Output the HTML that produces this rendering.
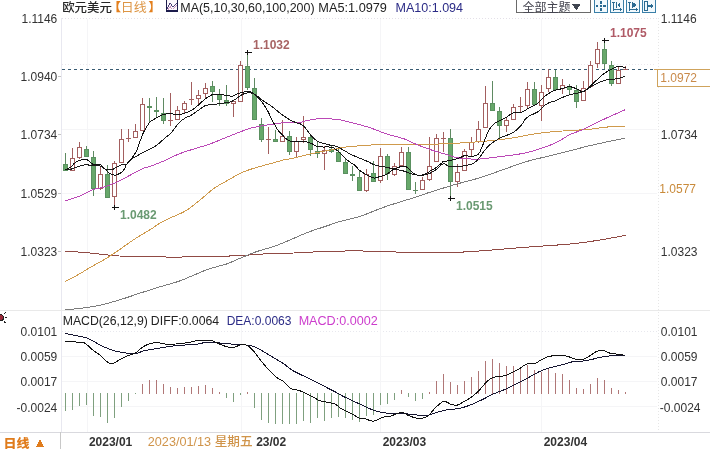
<!DOCTYPE html>
<html><head><meta charset="utf-8"><title>欧元美元 日线</title>
<style>
html,body{margin:0;padding:0;background:#fff;}
body{width:710px;height:449px;overflow:hidden;position:relative;font-family:"Liberation Sans", "Noto Sans CJK SC", sans-serif;}
svg{position:absolute;left:0;top:0;}
.t{font-family:"Liberation Sans", "Noto Sans CJK SC", sans-serif;font-size:12px;}
</style></head>
<body>
<svg width="710" height="449" viewBox="0 0 710 449" shape-rendering="crispEdges">
<rect width="710" height="449" fill="#fff"/>
<line x1="62" y1="18.5" x2="657" y2="18.5" stroke="#e4e0e8" stroke-dasharray="1,2"/>
<line x1="62" y1="331.5" x2="657" y2="331.5" stroke="#e8e8ee" stroke-dasharray="1,2"/>
<line x1="62" y1="64.5" x2="654" y2="64.5" stroke="#ece8ee" stroke-dasharray="1,2"/>
<line x1="62" y1="129.5" x2="657" y2="129.5" stroke="#f5f5f7"/>
<line x1="62" y1="193.5" x2="657" y2="193.5" stroke="#f5f5f7"/>
<line x1="62" y1="356.5" x2="657" y2="356.5" stroke="#f5f5f7"/>
<line x1="62" y1="381.5" x2="657" y2="381.5" stroke="#f5f5f7"/>
<line x1="62" y1="406.5" x2="657" y2="406.5" stroke="#f5f5f7"/>
<line x1="87.5" y1="19" x2="87.5" y2="432" stroke="#f5f5f7" />
<line x1="241.5" y1="19" x2="241.5" y2="432" stroke="#f5f5f7" />
<line x1="380.5" y1="19" x2="380.5" y2="432" stroke="#f5f5f7" />
<line x1="541.5" y1="19" x2="541.5" y2="432" stroke="#f5f5f7" />
<line x1="61.5" y1="18" x2="61.5" y2="432" stroke="#e8e8f0"/>
<line x1="658.5" y1="18" x2="658.5" y2="432" stroke="#e6e6e6" stroke-dasharray="1,2"/>
<line x1="0" y1="310.5" x2="710" y2="310.5" stroke="#e9e9e9"/>
<line x1="0" y1="432.5" x2="710" y2="432.5" stroke="#d9d9de"/>
<line x1="58" y1="76.5" x2="61" y2="76.5" stroke="#c4c4c4"/>
<line x1="58" y1="134.5" x2="61" y2="134.5" stroke="#c4c4c4"/>
<line x1="58" y1="193.5" x2="61" y2="193.5" stroke="#c4c4c4"/>
<line x1="58" y1="251.5" x2="61" y2="251.5" stroke="#c4c4c4"/>
<line x1="62" y1="69.5" x2="654" y2="69.5" stroke="#385a72" stroke-dasharray="3,3"/>
<rect x="65" y="153" width="1" height="18" fill="#5f8a62"/>
<rect x="63.5" y="164.5" width="4" height="6" fill="#67a86a" stroke="#5a9060"/>
<rect x="72" y="148" width="1" height="23" fill="#a35f5f"/>
<rect x="70.5" y="158.5" width="4" height="12" fill="#fff" stroke="#a35f5f"/>
<rect x="79" y="142" width="1" height="17" fill="#a35f5f"/>
<rect x="77.5" y="147.5" width="4" height="10" fill="#fff" stroke="#a35f5f"/>
<rect x="86" y="146" width="1" height="11" fill="#5f8a62"/>
<rect x="84.5" y="149.5" width="4" height="7" fill="#67a86a" stroke="#5a9060"/>
<rect x="93" y="151" width="1" height="45" fill="#5f8a62"/>
<rect x="91.5" y="157.5" width="4" height="31" fill="#67a86a" stroke="#5a9060"/>
<rect x="100" y="167" width="1" height="23" fill="#a35f5f"/>
<rect x="98.5" y="174.5" width="4" height="14" fill="#fff" stroke="#a35f5f"/>
<rect x="107" y="165" width="1" height="33" fill="#5f8a62"/>
<rect x="105.5" y="174.5" width="4" height="23" fill="#67a86a" stroke="#5a9060"/>
<rect x="114" y="161" width="1" height="46" fill="#a35f5f"/>
<rect x="112.5" y="163.5" width="4" height="33" fill="#fff" stroke="#a35f5f"/>
<rect x="121" y="129" width="1" height="34" fill="#a35f5f"/>
<rect x="119.5" y="139.5" width="4" height="23" fill="#fff" stroke="#a35f5f"/>
<rect x="128" y="129" width="1" height="13" fill="#a35f5f"/>
<rect x="126" y="138" width="5" height="1" fill="#a35f5f"/>
<rect x="135" y="124" width="1" height="14" fill="#a35f5f"/>
<rect x="133.5" y="131.5" width="4" height="6" fill="#fff" stroke="#a35f5f"/>
<rect x="142" y="98" width="1" height="33" fill="#a35f5f"/>
<rect x="140.5" y="104.5" width="4" height="26" fill="#fff" stroke="#a35f5f"/>
<rect x="149" y="98" width="1" height="24" fill="#5f8a62"/>
<rect x="147" y="106" width="5" height="2" fill="#5a9060"/>
<rect x="156" y="97" width="1" height="20" fill="#5f8a62"/>
<rect x="154" y="110" width="5" height="2" fill="#5a9060"/>
<rect x="163" y="98" width="1" height="26" fill="#5f8a62"/>
<rect x="161.5" y="113.5" width="4" height="7" fill="#67a86a" stroke="#5a9060"/>
<rect x="170" y="93" width="1" height="33" fill="#a35f5f"/>
<rect x="168" y="120" width="5" height="1" fill="#a35f5f"/>
<rect x="177" y="106" width="1" height="14" fill="#a35f5f"/>
<rect x="175.5" y="110.5" width="4" height="9" fill="#fff" stroke="#a35f5f"/>
<rect x="184" y="101" width="1" height="13" fill="#a35f5f"/>
<rect x="182.5" y="103.5" width="4" height="6" fill="#fff" stroke="#a35f5f"/>
<rect x="191" y="82" width="1" height="23" fill="#a35f5f"/>
<rect x="189" y="99" width="5" height="1" fill="#a35f5f"/>
<rect x="198" y="90" width="1" height="16" fill="#a35f5f"/>
<rect x="196.5" y="95.5" width="4" height="3" fill="#fff" stroke="#a35f5f"/>
<rect x="205" y="83" width="1" height="15" fill="#a35f5f"/>
<rect x="203.5" y="88.5" width="4" height="5" fill="#fff" stroke="#a35f5f"/>
<rect x="212" y="81" width="1" height="21" fill="#5f8a62"/>
<rect x="210.5" y="86.5" width="4" height="5" fill="#67a86a" stroke="#5a9060"/>
<rect x="219" y="89" width="1" height="17" fill="#5f8a62"/>
<rect x="217.5" y="94.5" width="4" height="5" fill="#67a86a" stroke="#5a9060"/>
<rect x="226" y="85" width="1" height="21" fill="#5f8a62"/>
<rect x="224.5" y="100.5" width="4" height="3" fill="#67a86a" stroke="#5a9060"/>
<rect x="233" y="100" width="1" height="17" fill="#a35f5f"/>
<rect x="231.5" y="101.5" width="4" height="2" fill="#fff" stroke="#a35f5f"/>
<rect x="240" y="61" width="1" height="41" fill="#a35f5f"/>
<rect x="238.5" y="65.5" width="4" height="36" fill="#fff" stroke="#a35f5f"/>
<rect x="247" y="52" width="1" height="38" fill="#5f8a62"/>
<rect x="245.5" y="66.5" width="4" height="21" fill="#67a86a" stroke="#5a9060"/>
<rect x="254" y="78" width="1" height="42" fill="#5f8a62"/>
<rect x="252.5" y="88.5" width="4" height="31" fill="#67a86a" stroke="#5a9060"/>
<rect x="261" y="118" width="1" height="24" fill="#5f8a62"/>
<rect x="259.5" y="124.5" width="4" height="15" fill="#67a86a" stroke="#5a9060"/>
<rect x="268" y="127" width="1" height="27" fill="#a35f5f"/>
<rect x="266" y="139" width="5" height="1" fill="#a35f5f"/>
<rect x="275" y="130" width="1" height="12" fill="#5f8a62"/>
<rect x="273.5" y="139.5" width="4" height="2" fill="#67a86a" stroke="#5a9060"/>
<rect x="282" y="120" width="1" height="22" fill="#a35f5f"/>
<rect x="280.5" y="136.5" width="4" height="5" fill="#fff" stroke="#a35f5f"/>
<rect x="289" y="131" width="1" height="24" fill="#5f8a62"/>
<rect x="287.5" y="136.5" width="4" height="15" fill="#67a86a" stroke="#5a9060"/>
<rect x="296" y="137" width="1" height="20" fill="#a35f5f"/>
<rect x="294.5" y="141.5" width="4" height="10" fill="#fff" stroke="#a35f5f"/>
<rect x="303" y="116" width="1" height="27" fill="#a35f5f"/>
<rect x="301.5" y="137.5" width="4" height="2" fill="#fff" stroke="#a35f5f"/>
<rect x="310" y="135" width="1" height="21" fill="#5f8a62"/>
<rect x="308.5" y="137.5" width="4" height="12" fill="#67a86a" stroke="#5a9060"/>
<rect x="317" y="141" width="1" height="17" fill="#5f8a62"/>
<rect x="315.5" y="151.5" width="4" height="2" fill="#67a86a" stroke="#5a9060"/>
<rect x="324" y="146" width="1" height="24" fill="#a35f5f"/>
<rect x="322.5" y="150.5" width="4" height="3" fill="#fff" stroke="#a35f5f"/>
<rect x="331" y="146" width="1" height="7" fill="#5f8a62"/>
<rect x="329.5" y="149.5" width="4" height="2" fill="#67a86a" stroke="#5a9060"/>
<rect x="338" y="147" width="1" height="15" fill="#5f8a62"/>
<rect x="336.5" y="152.5" width="4" height="9" fill="#67a86a" stroke="#5a9060"/>
<rect x="345" y="159" width="1" height="15" fill="#5f8a62"/>
<rect x="343.5" y="162.5" width="4" height="11" fill="#67a86a" stroke="#5a9060"/>
<rect x="352" y="166" width="1" height="15" fill="#5f8a62"/>
<rect x="350" y="174" width="5" height="2" fill="#5a9060"/>
<rect x="359" y="171" width="1" height="20" fill="#5f8a62"/>
<rect x="357.5" y="177.5" width="4" height="13" fill="#67a86a" stroke="#5a9060"/>
<rect x="366" y="169" width="1" height="23" fill="#a35f5f"/>
<rect x="364.5" y="174.5" width="4" height="16" fill="#fff" stroke="#a35f5f"/>
<rect x="373" y="161" width="1" height="21" fill="#5f8a62"/>
<rect x="371.5" y="173.5" width="4" height="8" fill="#67a86a" stroke="#5a9060"/>
<rect x="380" y="148" width="1" height="35" fill="#a35f5f"/>
<rect x="378.5" y="156.5" width="4" height="24" fill="#fff" stroke="#a35f5f"/>
<rect x="387" y="154" width="1" height="26" fill="#5f8a62"/>
<rect x="385.5" y="156.5" width="4" height="17" fill="#67a86a" stroke="#5a9060"/>
<rect x="394" y="163" width="1" height="13" fill="#a35f5f"/>
<rect x="392.5" y="166.5" width="4" height="8" fill="#fff" stroke="#a35f5f"/>
<rect x="401" y="147" width="1" height="19" fill="#a35f5f"/>
<rect x="399.5" y="152.5" width="4" height="13" fill="#fff" stroke="#a35f5f"/>
<rect x="408" y="147" width="1" height="43" fill="#5f8a62"/>
<rect x="406.5" y="152.5" width="4" height="37" fill="#67a86a" stroke="#5a9060"/>
<rect x="415" y="182" width="1" height="12" fill="#5f8a62"/>
<rect x="413" y="190" width="5" height="1" fill="#5f8a62"/>
<rect x="422" y="177" width="1" height="13" fill="#a35f5f"/>
<rect x="420.5" y="180.5" width="4" height="9" fill="#fff" stroke="#a35f5f"/>
<rect x="429" y="137" width="1" height="44" fill="#a35f5f"/>
<rect x="427.5" y="166.5" width="4" height="13" fill="#fff" stroke="#a35f5f"/>
<rect x="436" y="134" width="1" height="28" fill="#a35f5f"/>
<rect x="434.5" y="138.5" width="4" height="23" fill="#fff" stroke="#a35f5f"/>
<rect x="443" y="132" width="1" height="20" fill="#a35f5f"/>
<rect x="441" y="138" width="5" height="1" fill="#a35f5f"/>
<rect x="450" y="129" width="1" height="69" fill="#5f8a62"/>
<rect x="448.5" y="138.5" width="4" height="43" fill="#67a86a" stroke="#5a9060"/>
<rect x="457" y="164" width="1" height="23" fill="#a35f5f"/>
<rect x="455.5" y="172.5" width="4" height="9" fill="#fff" stroke="#a35f5f"/>
<rect x="464" y="149" width="1" height="22" fill="#a35f5f"/>
<rect x="462.5" y="151.5" width="4" height="19" fill="#fff" stroke="#a35f5f"/>
<rect x="471" y="137" width="1" height="19" fill="#a35f5f"/>
<rect x="469.5" y="142.5" width="4" height="7" fill="#fff" stroke="#a35f5f"/>
<rect x="478" y="121" width="1" height="22" fill="#a35f5f"/>
<rect x="476.5" y="129.5" width="4" height="12" fill="#fff" stroke="#a35f5f"/>
<rect x="485" y="86" width="1" height="42" fill="#a35f5f"/>
<rect x="483.5" y="103.5" width="4" height="24" fill="#fff" stroke="#a35f5f"/>
<rect x="492" y="81" width="1" height="30" fill="#5f8a62"/>
<rect x="490.5" y="103.5" width="4" height="7" fill="#67a86a" stroke="#5a9060"/>
<rect x="499" y="107" width="1" height="31" fill="#5f8a62"/>
<rect x="497.5" y="111.5" width="4" height="14" fill="#67a86a" stroke="#5a9060"/>
<rect x="506" y="117" width="1" height="15" fill="#a35f5f"/>
<rect x="504.5" y="120.5" width="4" height="5" fill="#fff" stroke="#a35f5f"/>
<rect x="513" y="104" width="1" height="16" fill="#a35f5f"/>
<rect x="511.5" y="107.5" width="4" height="12" fill="#fff" stroke="#a35f5f"/>
<rect x="520" y="97" width="1" height="16" fill="#a35f5f"/>
<rect x="518" y="106" width="5" height="1" fill="#a35f5f"/>
<rect x="527" y="82" width="1" height="26" fill="#a35f5f"/>
<rect x="525.5" y="89.5" width="4" height="16" fill="#fff" stroke="#a35f5f"/>
<rect x="534" y="82" width="1" height="24" fill="#5f8a62"/>
<rect x="532.5" y="89.5" width="4" height="15" fill="#67a86a" stroke="#5a9060"/>
<rect x="541" y="85" width="1" height="36" fill="#a35f5f"/>
<rect x="539.5" y="92.5" width="4" height="13" fill="#fff" stroke="#a35f5f"/>
<rect x="548" y="69" width="1" height="23" fill="#a35f5f"/>
<rect x="546.5" y="77.5" width="4" height="11" fill="#fff" stroke="#a35f5f"/>
<rect x="555" y="70" width="1" height="20" fill="#5f8a62"/>
<rect x="553.5" y="77.5" width="4" height="12" fill="#67a86a" stroke="#5a9060"/>
<rect x="562" y="79" width="1" height="15" fill="#a35f5f"/>
<rect x="560.5" y="85.5" width="4" height="3" fill="#fff" stroke="#a35f5f"/>
<rect x="569" y="84" width="1" height="11" fill="#5f8a62"/>
<rect x="567.5" y="86.5" width="4" height="3" fill="#67a86a" stroke="#5a9060"/>
<rect x="576" y="85" width="1" height="23" fill="#5f8a62"/>
<rect x="574.5" y="90.5" width="4" height="11" fill="#67a86a" stroke="#5a9060"/>
<rect x="583" y="81" width="1" height="20" fill="#a35f5f"/>
<rect x="581.5" y="88.5" width="4" height="12" fill="#fff" stroke="#a35f5f"/>
<rect x="590" y="61" width="1" height="26" fill="#a35f5f"/>
<rect x="588.5" y="65.5" width="4" height="21" fill="#fff" stroke="#a35f5f"/>
<rect x="597" y="42" width="1" height="26" fill="#a35f5f"/>
<rect x="595.5" y="49.5" width="4" height="14" fill="#fff" stroke="#a35f5f"/>
<rect x="604" y="40" width="1" height="29" fill="#5f8a62"/>
<rect x="602.5" y="49.5" width="4" height="14" fill="#67a86a" stroke="#5a9060"/>
<rect x="611" y="61" width="1" height="25" fill="#5f8a62"/>
<rect x="609.5" y="65.5" width="4" height="18" fill="#67a86a" stroke="#5a9060"/>
<rect x="618" y="67" width="1" height="17" fill="#a35f5f"/>
<rect x="616.5" y="70.5" width="4" height="13" fill="#fff" stroke="#a35f5f"/>
<rect x="625" y="66" width="1" height="4" fill="#a35f5f"/>
<rect x="623" y="69" width="5" height="1" fill="#a35f5f"/>
<path d="M65.00,251.10 C67.45,251.27 73.97,251.62 79.70,252.10 C85.43,252.58 94.47,253.48 99.40,254.00 C104.33,254.52 106.00,254.87 109.30,255.20 C112.60,255.53 114.27,255.83 119.20,256.00 C124.13,256.17 132.33,256.10 138.90,256.20 C145.47,256.30 153.33,256.43 158.60,256.60 C163.87,256.77 166.55,257.13 170.50,257.20 C174.45,257.27 177.38,257.13 182.30,257.00 C187.22,256.87 191.32,256.58 200.00,256.40 C208.68,256.22 225.37,256.20 234.40,255.90 C243.43,255.60 247.62,255.02 254.20,254.60 C260.78,254.18 267.33,253.67 273.90,253.40 C280.47,253.13 287.03,253.23 293.60,253.00 C300.17,252.77 307.23,252.22 313.30,252.00 C319.37,251.78 323.80,251.90 330.00,251.70 C336.20,251.50 345.03,250.92 350.50,250.80 C355.97,250.68 357.68,250.87 362.80,251.00 C367.92,251.13 374.03,251.40 381.20,251.60 C388.37,251.80 397.25,252.08 405.80,252.20 C414.35,252.32 423.47,252.30 432.50,252.30 C441.53,252.30 449.48,252.63 460.00,252.20 C470.52,251.77 483.72,250.60 495.60,249.70 C507.48,248.80 519.42,247.70 531.30,246.80 C543.18,245.90 557.40,245.13 566.90,244.30 C576.40,243.47 581.17,242.80 588.30,241.80 C595.43,240.80 603.47,239.37 609.70,238.30 C615.93,237.23 623.03,235.88 625.70,235.40" fill="none" stroke="#904a44" stroke-width="1"/>
<path d="M65.00,309.50 C67.45,309.33 73.97,309.20 79.70,308.50 C85.43,307.80 92.82,306.72 99.40,305.30 C105.98,303.88 112.62,301.97 119.20,300.00 C125.78,298.03 133.77,295.17 138.90,293.50 C144.03,291.83 146.72,291.05 150.00,290.00 C153.28,288.95 153.90,288.62 158.60,287.20 C163.30,285.78 173.27,283.12 178.20,281.50 C183.13,279.88 184.57,279.00 188.20,277.50 C191.83,276.00 196.98,273.77 200.00,272.50 C203.02,271.23 203.63,270.83 206.30,269.90 C208.97,268.97 212.47,267.93 216.00,266.90 C219.53,265.87 223.50,265.13 227.50,263.70 C231.50,262.27 235.10,260.33 240.00,258.30 C244.90,256.27 251.27,253.47 256.90,251.50 C262.53,249.53 268.17,248.47 273.80,246.50 C279.43,244.53 285.07,242.05 290.70,239.70 C296.33,237.35 301.97,234.57 307.60,232.40 C313.23,230.23 318.87,228.58 324.50,226.70 C330.13,224.82 335.48,222.82 341.40,221.10 C347.32,219.38 353.15,218.63 360.00,216.40 C366.85,214.17 375.00,210.37 382.50,207.70 C390.00,205.03 399.37,202.18 405.00,200.40 C410.63,198.62 412.53,198.23 416.30,197.00 C420.07,195.77 423.65,194.32 427.60,193.00 C431.55,191.68 435.43,190.52 440.00,189.10 C444.57,187.68 448.33,186.40 455.00,184.50 C461.67,182.60 472.08,180.13 480.00,177.70 C487.92,175.27 495.00,172.52 502.50,169.90 C510.00,167.28 517.48,164.27 525.00,162.00 C532.52,159.73 540.10,158.18 547.60,156.30 C555.10,154.42 562.48,152.58 570.00,150.70 C577.52,148.82 583.53,147.10 592.70,145.00 C601.87,142.90 619.62,139.25 625.00,138.10" fill="none" stroke="#7c7c7c" stroke-width="1"/>
<path d="M65.00,281.70 C67.45,280.38 75.60,276.12 79.70,273.80 C83.80,271.48 86.32,269.72 89.60,267.80 C92.88,265.88 96.12,264.18 99.40,262.30 C102.68,260.42 105.87,258.67 109.30,256.50 C112.73,254.33 115.62,252.32 120.00,249.30 C124.38,246.28 130.40,241.78 135.60,238.40 C140.80,235.02 147.30,231.47 151.20,229.00 C155.10,226.53 155.87,225.42 159.00,223.60 C162.13,221.78 165.50,220.27 170.00,218.10 C174.50,215.93 180.97,213.65 186.00,210.60 C191.03,207.55 195.52,203.52 200.20,199.80 C204.88,196.08 209.43,191.58 214.10,188.30 C218.77,185.02 223.50,182.75 228.20,180.10 C232.90,177.45 237.62,174.50 242.30,172.40 C246.98,170.30 251.62,168.95 256.30,167.50 C260.98,166.05 265.70,165.00 270.40,163.70 C275.10,162.40 281.23,160.50 284.50,159.70 C287.77,158.90 286.73,159.62 290.00,158.90 C293.27,158.18 299.40,156.50 304.10,155.40 C308.80,154.30 313.50,153.25 318.20,152.30 C322.90,151.35 327.62,150.60 332.30,149.70 C336.98,148.80 341.62,147.55 346.30,146.90 C350.98,146.25 355.70,146.15 360.40,145.80 C365.10,145.45 369.57,145.05 374.50,144.80 C379.43,144.55 384.08,144.35 390.00,144.30 C395.92,144.25 403.33,144.52 410.00,144.50 C416.67,144.48 423.00,144.35 430.00,144.20 C437.00,144.05 446.17,143.87 452.00,143.60 C457.83,143.33 460.02,142.95 465.00,142.60 C469.98,142.25 476.27,141.97 481.90,141.50 C487.53,141.03 493.17,140.47 498.80,139.80 C504.43,139.13 510.07,138.43 515.70,137.50 C521.33,136.57 527.28,135.08 532.60,134.20 C537.92,133.32 541.37,132.82 547.60,132.20 C553.83,131.58 562.93,130.98 570.00,130.50 C577.07,130.02 584.33,129.83 590.00,129.30 C595.67,128.77 599.83,127.75 604.00,127.30 C608.17,126.85 611.50,126.73 615.00,126.60 C618.50,126.47 623.33,126.52 625.00,126.50" fill="none" stroke="#cf9a4c" stroke-width="1"/>
<path d="M65.00,201.00 C67.50,200.17 75.50,197.83 80.00,196.00 C84.50,194.17 88.00,191.50 92.00,190.00 C96.00,188.50 100.00,188.25 104.00,187.00 C108.00,185.75 112.22,184.17 116.00,182.50 C119.78,180.83 122.25,179.33 126.70,177.00 C131.15,174.67 138.82,170.27 142.70,168.50 C146.58,166.73 146.37,167.70 150.00,166.40 C153.63,165.10 159.68,162.77 164.50,160.70 C169.32,158.63 174.08,155.93 178.90,154.00 C183.72,152.07 188.57,150.65 193.40,149.10 C198.23,147.55 203.07,146.38 207.90,144.70 C212.73,143.02 217.58,140.92 222.40,139.00 C227.22,137.08 231.98,135.03 236.80,133.20 C241.62,131.37 246.60,129.30 251.30,128.00 C256.00,126.70 260.93,126.12 265.00,125.40 C269.07,124.68 272.13,124.17 275.70,123.70 C279.27,123.23 282.85,122.78 286.40,122.60 C289.95,122.42 294.33,122.72 297.00,122.60 C299.67,122.48 300.62,122.28 302.40,121.90 C304.18,121.52 305.93,120.68 307.70,120.30 C309.47,119.92 310.85,119.92 313.00,119.60 C315.15,119.28 318.27,118.55 320.60,118.40 C322.93,118.25 324.60,118.57 327.00,118.70 C329.40,118.83 332.83,119.03 335.00,119.20 C337.17,119.37 337.50,119.20 340.00,119.70 C342.50,120.20 346.10,121.20 350.00,122.20 C353.90,123.20 359.23,124.48 363.40,125.70 C367.57,126.92 371.40,128.20 375.00,129.50 C378.60,130.80 381.67,132.37 385.00,133.50 C388.33,134.63 391.45,135.28 395.00,136.30 C398.55,137.32 403.30,138.48 406.30,139.60 C409.30,140.72 410.18,141.77 413.00,143.00 C415.82,144.23 419.63,145.67 423.20,147.00 C426.77,148.33 430.65,149.78 434.40,151.00 C438.15,152.22 441.93,153.18 445.70,154.30 C449.47,155.42 453.25,156.95 457.00,157.70 C460.75,158.45 464.37,158.58 468.20,158.80 C472.03,159.02 474.28,159.42 480.00,159.00 C485.72,158.58 495.00,157.30 502.50,156.30 C510.00,155.30 517.48,154.68 525.00,153.00 C532.52,151.32 541.77,148.28 547.60,146.20 C553.43,144.12 556.27,142.45 560.00,140.50 C563.73,138.55 566.43,136.22 570.00,134.50 C573.57,132.78 577.62,131.82 581.40,130.20 C585.18,128.58 588.93,126.63 592.70,124.80 C596.47,122.97 598.62,121.70 604.00,119.20 C609.38,116.70 621.50,111.37 625.00,109.80" fill="none" stroke="#bb48b6" stroke-width="1"/>
<path d="M65.00,169.80 C65.92,169.72 68.18,169.87 70.50,169.30 C72.82,168.73 76.37,167.17 78.90,166.40 C81.43,165.63 83.73,164.85 85.70,164.70 C87.67,164.55 89.30,165.28 90.70,165.50 C92.10,165.72 92.55,165.92 94.10,166.00 C95.65,166.08 98.02,165.45 100.00,166.00 C101.98,166.55 103.88,168.75 106.00,169.30 C108.12,169.85 110.87,169.68 112.70,169.30 C114.53,168.92 115.45,167.77 117.00,167.00 C118.55,166.23 120.38,165.17 122.00,164.70 C123.62,164.23 125.03,165.18 126.70,164.20 C128.37,163.22 130.22,160.23 132.00,158.80 C133.78,157.37 135.25,156.83 137.40,155.60 C139.55,154.37 141.87,153.00 144.90,151.40 C147.93,149.80 152.25,148.23 155.60,146.00 C158.95,143.77 162.37,140.22 165.00,138.00 C167.63,135.78 169.63,134.55 171.40,132.70 C173.17,130.85 174.18,128.68 175.60,126.90 C177.02,125.12 178.28,123.48 179.90,122.00 C181.52,120.52 183.52,119.07 185.30,118.00 C187.08,116.93 188.82,116.62 190.60,115.60 C192.38,114.58 194.22,113.13 196.00,111.90 C197.78,110.67 199.70,109.27 201.30,108.20 C202.90,107.13 203.82,106.13 205.60,105.50 C207.38,104.87 210.43,104.62 212.00,104.40 C213.57,104.18 213.43,104.37 215.00,104.20 C216.57,104.03 219.27,103.68 221.40,103.40 C223.53,103.12 226.02,102.87 227.80,102.50 C229.58,102.13 230.67,101.85 232.10,101.20 C233.53,100.55 234.80,99.67 236.40,98.60 C238.00,97.53 239.93,95.75 241.70,94.80 C243.47,93.85 245.57,93.25 247.00,92.90 C248.43,92.55 248.87,92.38 250.30,92.70 C251.73,93.02 253.48,93.47 255.60,94.80 C257.72,96.13 260.55,98.95 263.00,100.70 C265.45,102.45 268.18,103.82 270.30,105.30 C272.42,106.78 273.92,108.17 275.70,109.60 C277.48,111.03 279.22,112.57 281.00,113.90 C282.78,115.23 284.62,116.45 286.40,117.60 C288.18,118.75 289.93,119.90 291.70,120.80 C293.47,121.70 295.40,122.40 297.00,123.00 C298.60,123.60 299.87,123.52 301.30,124.40 C302.73,125.28 304.17,126.67 305.60,128.30 C307.03,129.93 308.48,132.50 309.90,134.20 C311.32,135.90 312.68,137.25 314.10,138.50 C315.52,139.75 316.62,140.82 318.40,141.70 C320.18,142.58 322.67,143.18 324.80,143.80 C326.93,144.42 329.50,145.05 331.20,145.40 C332.90,145.75 333.70,145.53 335.00,145.90 C336.30,146.27 337.33,146.75 339.00,147.60 C340.67,148.45 343.00,149.83 345.00,151.00 C347.00,152.17 349.33,153.73 351.00,154.60 C352.67,155.47 353.27,155.48 355.00,156.20 C356.73,156.92 359.27,158.00 361.40,158.90 C363.53,159.80 365.67,160.62 367.80,161.60 C369.93,162.58 372.07,164.00 374.20,164.80 C376.33,165.60 378.47,165.97 380.60,166.40 C382.73,166.83 384.85,166.97 387.00,167.40 C389.15,167.83 391.35,168.55 393.50,169.00 C395.65,169.45 397.95,169.68 399.90,170.10 C401.85,170.52 403.60,170.97 405.20,171.50 C406.80,172.03 407.90,172.77 409.50,173.30 C411.10,173.83 413.02,174.35 414.80,174.70 C416.58,175.05 418.45,175.40 420.20,175.40 C421.95,175.40 423.55,175.12 425.30,174.70 C427.05,174.28 428.92,173.73 430.70,172.90 C432.48,172.07 434.22,171.03 436.00,169.70 C437.78,168.37 439.97,165.88 441.40,164.90 C442.83,163.92 443.37,163.53 444.60,163.80 C445.83,164.07 447.57,165.97 448.80,166.50 C450.03,167.03 450.57,167.00 452.00,167.00 C453.43,167.00 455.62,166.67 457.40,166.50 C459.18,166.33 460.92,166.27 462.70,166.00 C464.48,165.73 466.32,165.35 468.10,164.90 C469.88,164.45 471.62,164.37 473.40,163.30 C475.18,162.23 477.02,160.55 478.80,158.50 C480.58,156.45 482.23,153.32 484.10,151.00 C485.97,148.68 488.02,146.35 490.00,144.60 C491.98,142.85 494.17,141.68 496.00,140.50 C497.83,139.32 499.27,138.35 501.00,137.50 C502.73,136.65 504.62,136.10 506.40,135.40 C508.18,134.70 509.93,134.28 511.70,133.30 C513.47,132.32 515.40,130.83 517.00,129.50 C518.60,128.17 519.87,127.08 521.30,125.30 C522.73,123.52 524.17,120.42 525.60,118.80 C527.03,117.18 528.48,116.45 529.90,115.60 C531.32,114.75 532.68,114.40 534.10,113.70 C535.52,113.00 536.97,112.50 538.40,111.40 C539.83,110.30 541.27,108.35 542.70,107.10 C544.13,105.85 545.58,104.78 547.00,103.90 C548.42,103.02 549.87,102.28 551.20,101.80 C552.53,101.32 553.38,101.62 555.00,101.00 C556.62,100.38 558.93,98.98 560.90,98.10 C562.87,97.22 564.83,96.38 566.80,95.70 C568.77,95.02 570.73,94.48 572.70,94.00 C574.67,93.52 576.83,93.20 578.60,92.80 C580.37,92.40 581.72,92.30 583.30,91.60 C584.88,90.90 586.52,89.62 588.10,88.60 C589.68,87.58 591.23,86.38 592.80,85.50 C594.37,84.62 595.73,84.10 597.50,83.30 C599.27,82.50 601.63,81.32 603.40,80.70 C605.17,80.08 606.33,79.85 608.10,79.60 C609.87,79.35 612.02,79.47 614.00,79.20 C615.98,78.93 618.13,78.48 620.00,78.00 C621.87,77.52 624.33,76.58 625.20,76.30" fill="none" stroke="#1a1a1a" stroke-width="1"/>
<path d="M65.00,169.80 C65.92,169.37 68.88,168.33 70.50,167.20 C72.12,166.07 73.30,164.12 74.70,163.00 C76.10,161.88 77.07,161.13 78.90,160.50 C80.73,159.87 84.15,159.20 85.70,159.20 C87.25,159.20 87.22,159.80 88.20,160.50 C89.18,161.20 90.62,162.70 91.60,163.40 C92.58,164.10 92.70,164.48 94.10,164.70 C95.50,164.92 98.58,164.35 100.00,164.70 C101.42,165.05 101.60,165.95 102.60,166.80 C103.60,167.65 104.88,168.75 106.00,169.80 C107.12,170.85 107.90,172.20 109.30,173.10 C110.70,174.00 112.98,174.98 114.40,175.20 C115.82,175.42 116.53,174.95 117.80,174.40 C119.07,173.85 120.87,172.88 122.00,171.90 C123.13,170.92 123.82,169.78 124.60,168.50 C125.38,167.22 125.47,165.98 126.70,164.20 C127.93,162.42 130.40,159.93 132.00,157.80 C133.60,155.67 135.05,153.90 136.30,151.40 C137.55,148.90 138.43,145.65 139.50,142.80 C140.57,139.95 141.80,136.43 142.70,134.30 C143.60,132.17 143.68,132.05 144.90,130.00 C146.12,127.95 148.08,124.00 150.00,122.00 C151.92,120.00 154.27,119.20 156.40,118.00 C158.53,116.80 160.67,115.52 162.80,114.80 C164.93,114.08 167.07,113.77 169.20,113.70 C171.33,113.63 173.82,114.28 175.60,114.40 C177.38,114.52 178.28,114.63 179.90,114.40 C181.52,114.17 183.52,113.60 185.30,113.00 C187.08,112.40 188.82,111.78 190.60,110.80 C192.38,109.82 194.22,108.52 196.00,107.10 C197.78,105.68 199.53,103.82 201.30,102.30 C203.07,100.78 204.82,99.25 206.60,98.00 C208.38,96.75 210.60,95.37 212.00,94.80 C213.40,94.23 213.43,94.60 215.00,94.60 C216.57,94.60 219.27,94.67 221.40,94.80 C223.53,94.93 226.02,95.13 227.80,95.40 C229.58,95.67 230.67,96.58 232.10,96.40 C233.53,96.22 234.80,94.95 236.40,94.30 C238.00,93.65 239.93,92.98 241.70,92.50 C243.47,92.02 245.40,91.47 247.00,91.40 C248.60,91.33 249.87,91.43 251.30,92.10 C252.73,92.77 253.98,93.97 255.60,95.40 C257.22,96.83 259.43,98.87 261.00,100.70 C262.57,102.53 263.80,104.55 265.00,106.40 C266.20,108.25 267.13,109.75 268.20,111.80 C269.27,113.85 270.33,116.57 271.40,118.70 C272.47,120.83 273.53,122.73 274.60,124.60 C275.67,126.47 276.55,128.22 277.80,129.90 C279.05,131.58 280.67,133.18 282.10,134.70 C283.53,136.22 284.98,137.93 286.40,139.00 C287.82,140.07 288.83,140.75 290.60,141.10 C292.37,141.45 294.85,141.10 297.00,141.10 C299.15,141.10 301.72,140.92 303.50,141.10 C305.28,141.28 306.28,141.75 307.70,142.20 C309.12,142.65 310.38,143.08 312.00,143.80 C313.62,144.52 315.62,145.97 317.40,146.50 C319.18,147.03 320.75,146.92 322.70,147.00 C324.65,147.08 327.32,146.87 329.10,147.00 C330.88,147.13 331.75,146.97 333.40,147.80 C335.05,148.63 337.07,150.30 339.00,152.00 C340.93,153.70 343.00,156.17 345.00,158.00 C347.00,159.83 349.33,161.78 351.00,163.00 C352.67,164.22 353.62,164.12 355.00,165.30 C356.38,166.48 357.70,168.68 359.30,170.10 C360.90,171.52 362.82,172.73 364.60,173.80 C366.38,174.87 368.40,175.78 370.00,176.50 C371.60,177.22 372.78,178.02 374.20,178.10 C375.62,178.18 376.90,177.45 378.50,177.00 C380.10,176.55 382.20,176.02 383.80,175.40 C385.40,174.78 386.67,174.18 388.10,173.30 C389.53,172.42 390.97,170.98 392.40,170.10 C393.83,169.22 395.10,168.62 396.70,168.00 C398.30,167.38 400.40,166.58 402.00,166.40 C403.60,166.22 404.87,166.20 406.30,166.90 C407.73,167.60 409.18,169.40 410.60,170.60 C412.02,171.80 413.20,173.30 414.80,174.10 C416.40,174.90 418.45,175.42 420.20,175.40 C421.95,175.38 423.55,174.77 425.30,174.00 C427.05,173.23 428.92,171.87 430.70,170.80 C432.48,169.73 434.22,168.85 436.00,167.60 C437.78,166.35 440.15,164.32 441.40,163.30 C442.65,162.28 442.43,161.90 443.50,161.50 C444.57,161.10 446.38,161.13 447.80,160.90 C449.22,160.67 450.75,160.35 452.00,160.10 C453.25,159.85 453.87,159.85 455.30,159.40 C456.73,158.95 459.00,158.05 460.60,157.40 C462.20,156.75 463.48,155.70 464.90,155.50 C466.32,155.30 467.68,156.08 469.10,156.20 C470.52,156.32 471.97,156.43 473.40,156.20 C474.83,155.97 476.63,155.48 477.70,154.80 C478.77,154.12 478.92,153.80 479.80,152.10 C480.68,150.40 481.95,147.20 483.00,144.60 C484.05,142.00 485.05,139.02 486.10,136.50 C487.15,133.98 488.23,131.37 489.30,129.50 C490.37,127.63 491.25,126.55 492.50,125.30 C493.75,124.05 495.38,122.90 496.80,122.00 C498.22,121.10 499.40,120.70 501.00,119.90 C502.60,119.10 504.80,118.12 506.40,117.20 C508.00,116.28 509.18,115.23 510.60,114.40 C512.02,113.57 513.47,112.43 514.90,112.20 C516.33,111.97 517.77,113.13 519.20,113.00 C520.63,112.87 522.08,112.12 523.50,111.40 C524.92,110.68 526.28,109.50 527.70,108.70 C529.12,107.90 530.57,107.32 532.00,106.60 C533.43,105.88 534.87,105.38 536.30,104.40 C537.73,103.42 539.18,102.03 540.60,100.70 C542.02,99.37 543.38,97.65 544.80,96.40 C546.22,95.15 547.50,94.18 549.10,93.20 C550.70,92.22 552.63,91.17 554.40,90.50 C556.17,89.83 558.03,89.62 559.70,89.20 C561.37,88.78 562.82,88.43 564.40,88.00 C565.98,87.57 567.62,86.63 569.20,86.60 C570.78,86.57 572.33,87.27 573.90,87.80 C575.47,88.33 577.22,89.13 578.60,89.80 C579.98,90.47 581.02,91.70 582.20,91.80 C583.38,91.90 584.33,91.32 585.70,90.40 C587.07,89.48 588.63,87.97 590.40,86.30 C592.17,84.63 594.33,82.27 596.30,80.40 C598.27,78.53 600.23,76.68 602.20,75.10 C604.17,73.52 606.13,72.08 608.10,70.90 C610.07,69.72 612.22,68.78 614.00,68.00 C615.78,67.22 617.42,66.40 618.80,66.20 C620.18,66.00 621.13,66.53 622.30,66.80 C623.47,67.07 625.22,67.63 625.80,67.80" fill="none" stroke="#111111" stroke-width="1"/>
<rect x="112" y="207" width="7" height="1" fill="#111"/><rect x="114" y="205" width="1" height="5" fill="#111"/>
<rect x="245" y="52" width="7" height="1" fill="#111"/><rect x="247" y="50" width="1" height="5" fill="#111"/>
<rect x="448" y="198" width="7" height="1" fill="#111"/><rect x="450" y="196" width="1" height="5" fill="#111"/>
<rect x="602" y="40" width="7" height="1" fill="#111"/><rect x="604" y="38" width="1" height="5" fill="#111"/>
<text x="120" y="218.5" font-size="12" font-weight="bold" fill="#6a9a72" font-family='"Liberation Sans", "Noto Sans CJK SC", sans-serif'>1.0482</text>
<text x="253" y="48.5" font-size="12" font-weight="bold" fill="#a86464" font-family='"Liberation Sans", "Noto Sans CJK SC", sans-serif'>1.1032</text>
<text x="456" y="210" font-size="12" font-weight="bold" fill="#6a9a72" font-family='"Liberation Sans", "Noto Sans CJK SC", sans-serif'>1.0515</text>
<text x="610" y="36.5" font-size="12" font-weight="bold" fill="#b05a66" font-family='"Liberation Sans", "Noto Sans CJK SC", sans-serif'>1.1075</text>
<rect x="65" y="393" width="1" height="18" fill="#7fa07f"/>
<rect x="72" y="393" width="1" height="17" fill="#7fa07f"/>
<rect x="79" y="393" width="1" height="13" fill="#7fa07f"/>
<rect x="86" y="393" width="1" height="12" fill="#7fa07f"/>
<rect x="93" y="393" width="1" height="23" fill="#7fa07f"/>
<rect x="100" y="393" width="1" height="24" fill="#7fa07f"/>
<rect x="107" y="393" width="1" height="30" fill="#7fa07f"/>
<rect x="114" y="393" width="1" height="25" fill="#7fa07f"/>
<rect x="121" y="393" width="1" height="14" fill="#7fa07f"/>
<rect x="128" y="393" width="1" height="8" fill="#7fa07f"/>
<rect x="135" y="393" width="1" height="1" fill="#7fa07f"/>
<rect x="142" y="384" width="1" height="10" fill="#b07777"/>
<rect x="149" y="380" width="1" height="14" fill="#b07777"/>
<rect x="156" y="380" width="1" height="14" fill="#b07777"/>
<rect x="163" y="384" width="1" height="10" fill="#b07777"/>
<rect x="170" y="387" width="1" height="7" fill="#b07777"/>
<rect x="177" y="388" width="1" height="6" fill="#b07777"/>
<rect x="184" y="387" width="1" height="7" fill="#b07777"/>
<rect x="191" y="387" width="1" height="7" fill="#b07777"/>
<rect x="198" y="386" width="1" height="8" fill="#b07777"/>
<rect x="205" y="385" width="1" height="9" fill="#b07777"/>
<rect x="212" y="388" width="1" height="6" fill="#b07777"/>
<rect x="219" y="392" width="1" height="2" fill="#b07777"/>
<rect x="226" y="393" width="1" height="5" fill="#7fa07f"/>
<rect x="233" y="393" width="1" height="9" fill="#7fa07f"/>
<rect x="240" y="393" width="1" height="2" fill="#7fa07f"/>
<rect x="247" y="392" width="1" height="2" fill="#b07777"/>
<rect x="254" y="393" width="1" height="15" fill="#7fa07f"/>
<rect x="261" y="393" width="1" height="27" fill="#7fa07f"/>
<rect x="268" y="393" width="1" height="30" fill="#7fa07f"/>
<rect x="275" y="393" width="1" height="31" fill="#7fa07f"/>
<rect x="282" y="393" width="1" height="31" fill="#7fa07f"/>
<rect x="289" y="393" width="1" height="31" fill="#7fa07f"/>
<rect x="296" y="393" width="1" height="31" fill="#7fa07f"/>
<rect x="303" y="393" width="1" height="28" fill="#7fa07f"/>
<rect x="310" y="393" width="1" height="30" fill="#7fa07f"/>
<rect x="317" y="393" width="1" height="25" fill="#7fa07f"/>
<rect x="324" y="393" width="1" height="28" fill="#7fa07f"/>
<rect x="331" y="393" width="1" height="25" fill="#7fa07f"/>
<rect x="338" y="393" width="1" height="24" fill="#7fa07f"/>
<rect x="345" y="393" width="1" height="25" fill="#7fa07f"/>
<rect x="352" y="393" width="1" height="27" fill="#7fa07f"/>
<rect x="359" y="393" width="1" height="29" fill="#7fa07f"/>
<rect x="366" y="393" width="1" height="23" fill="#7fa07f"/>
<rect x="373" y="393" width="1" height="22" fill="#7fa07f"/>
<rect x="380" y="393" width="1" height="12" fill="#7fa07f"/>
<rect x="387" y="393" width="1" height="11" fill="#7fa07f"/>
<rect x="394" y="393" width="1" height="7" fill="#7fa07f"/>
<rect x="401" y="390" width="1" height="4" fill="#b07777"/>
<rect x="408" y="393" width="1" height="4" fill="#7fa07f"/>
<rect x="415" y="393" width="1" height="8" fill="#7fa07f"/>
<rect x="422" y="393" width="1" height="6" fill="#7fa07f"/>
<rect x="429" y="392" width="1" height="2" fill="#b07777"/>
<rect x="436" y="381" width="1" height="13" fill="#b07777"/>
<rect x="443" y="374" width="1" height="20" fill="#b07777"/>
<rect x="450" y="382" width="1" height="12" fill="#b07777"/>
<rect x="457" y="385" width="1" height="9" fill="#b07777"/>
<rect x="464" y="381" width="1" height="13" fill="#b07777"/>
<rect x="471" y="377" width="1" height="17" fill="#b07777"/>
<rect x="478" y="371" width="1" height="23" fill="#b07777"/>
<rect x="485" y="361" width="1" height="33" fill="#b07777"/>
<rect x="492" y="359" width="1" height="35" fill="#b07777"/>
<rect x="499" y="363" width="1" height="31" fill="#b07777"/>
<rect x="506" y="366" width="1" height="28" fill="#b07777"/>
<rect x="513" y="366" width="1" height="28" fill="#b07777"/>
<rect x="520" y="368" width="1" height="26" fill="#b07777"/>
<rect x="527" y="365" width="1" height="29" fill="#b07777"/>
<rect x="534" y="370" width="1" height="24" fill="#b07777"/>
<rect x="541" y="372" width="1" height="22" fill="#b07777"/>
<rect x="548" y="369" width="1" height="25" fill="#b07777"/>
<rect x="555" y="373" width="1" height="21" fill="#b07777"/>
<rect x="562" y="374" width="1" height="20" fill="#b07777"/>
<rect x="569" y="380" width="1" height="14" fill="#b07777"/>
<rect x="576" y="388" width="1" height="6" fill="#b07777"/>
<rect x="583" y="389" width="1" height="5" fill="#b07777"/>
<rect x="590" y="384" width="1" height="10" fill="#b07777"/>
<rect x="597" y="378" width="1" height="16" fill="#b07777"/>
<rect x="604" y="380" width="1" height="14" fill="#b07777"/>
<rect x="611" y="388" width="1" height="6" fill="#b07777"/>
<rect x="618" y="390" width="1" height="4" fill="#b07777"/>
<rect x="625" y="392" width="1" height="2" fill="#b07777"/>
<path d="M65.00,333.50 C68.62,334.25 80.87,336.08 86.70,338.00 C92.53,339.92 95.53,342.90 100.00,345.00 C104.47,347.10 109.40,349.30 113.50,350.60 C117.60,351.90 120.90,352.32 124.60,352.80 C128.30,353.28 132.37,353.87 135.70,353.50 C139.03,353.13 140.88,351.45 144.60,350.60 C148.32,349.75 153.53,349.13 158.00,348.40 C162.47,347.67 166.95,346.77 171.40,346.20 C175.85,345.63 180.77,345.27 184.70,345.00 C188.63,344.73 191.78,344.97 195.00,344.60 C198.22,344.23 200.28,343.10 204.00,342.80 C207.72,342.50 212.87,342.60 217.30,342.80 C221.73,343.00 226.52,343.70 230.60,344.00 C234.68,344.30 238.08,344.23 241.80,344.60 C245.52,344.97 249.57,345.20 252.90,346.20 C256.23,347.20 258.45,348.75 261.80,350.60 C265.15,352.45 269.30,355.07 273.00,357.30 C276.70,359.53 280.67,361.77 284.00,364.00 C287.33,366.23 289.27,368.48 293.00,370.70 C296.73,372.92 301.95,375.08 306.40,377.30 C310.85,379.52 314.93,381.58 319.70,384.00 C324.47,386.42 331.45,389.93 335.00,391.80 C338.55,393.67 338.12,393.72 341.00,395.20 C343.88,396.68 348.57,398.97 352.30,400.70 C356.03,402.43 359.70,403.93 363.40,405.60 C367.10,407.27 370.78,409.47 374.50,410.70 C378.22,411.93 381.98,412.52 385.70,413.00 C389.42,413.48 393.08,413.43 396.80,413.60 C400.52,413.77 404.30,413.73 408.00,414.00 C411.70,414.27 415.67,415.00 419.00,415.20 C422.33,415.40 425.02,415.68 428.00,415.20 C430.98,414.72 433.57,413.23 436.90,412.30 C440.23,411.37 444.28,410.23 448.00,409.60 C451.72,408.97 455.37,409.32 459.20,408.50 C463.03,407.68 467.15,406.18 471.00,404.70 C474.85,403.22 478.57,401.38 482.30,399.60 C486.03,397.82 489.70,395.67 493.40,394.00 C497.10,392.33 500.78,391.27 504.50,389.60 C508.22,387.93 511.98,385.85 515.70,384.00 C519.42,382.15 522.75,380.62 526.80,378.50 C530.85,376.38 536.38,373.02 540.00,371.30 C543.62,369.58 545.67,369.08 548.50,368.20 C551.33,367.32 554.18,366.70 557.00,366.00 C559.82,365.30 562.83,364.70 565.40,364.00 C567.97,363.30 569.58,362.28 572.40,361.80 C575.22,361.32 579.25,361.45 582.30,361.10 C585.35,360.75 587.92,360.28 590.70,359.70 C593.48,359.12 596.42,358.18 599.00,357.60 C601.58,357.02 603.60,356.50 606.20,356.20 C608.80,355.90 611.55,355.97 614.60,355.80 C617.65,355.63 622.85,355.30 624.50,355.20" fill="none" stroke="#151530" stroke-width="1"/>
<path d="M65.00,341.70 C67.88,341.82 78.68,341.92 82.30,342.40 C85.92,342.88 84.85,343.23 86.70,344.60 C88.55,345.97 91.18,348.87 93.40,350.60 C95.62,352.33 97.57,353.03 100.00,355.00 C102.43,356.97 105.75,361.02 108.00,362.40 C110.25,363.78 111.50,363.78 113.50,363.30 C115.50,362.82 117.78,360.68 120.00,359.50 C122.22,358.32 124.18,357.32 126.80,356.20 C129.42,355.08 133.10,354.28 135.70,352.80 C138.30,351.32 140.18,348.77 142.40,347.30 C144.62,345.83 146.58,344.82 149.00,344.00 C151.42,343.18 154.28,342.40 156.90,342.40 C159.52,342.40 161.55,343.73 164.70,344.00 C167.85,344.27 172.08,344.20 175.80,344.00 C179.52,343.80 183.80,343.30 187.00,342.80 C190.20,342.30 192.17,341.47 195.00,341.00 C197.83,340.53 201.03,340.00 204.00,340.00 C206.97,340.00 209.85,340.17 212.80,341.00 C215.75,341.83 218.55,343.88 221.70,345.00 C224.85,346.12 228.35,347.77 231.70,347.70 C235.05,347.63 239.00,344.85 241.80,344.60 C244.60,344.35 246.30,344.83 248.50,346.20 C250.70,347.57 252.78,350.22 255.00,352.80 C257.22,355.38 259.55,358.92 261.80,361.70 C264.05,364.48 265.90,366.78 268.50,369.50 C271.10,372.22 274.82,375.95 277.40,378.00 C279.98,380.05 281.77,380.05 284.00,381.80 C286.23,383.55 288.18,387.02 290.80,388.50 C293.42,389.98 296.37,389.48 299.70,390.70 C303.03,391.92 307.47,394.13 310.80,395.80 C314.13,397.47 316.73,399.58 319.70,400.70 C322.67,401.82 326.05,401.95 328.60,402.50 C331.15,403.05 332.93,403.00 335.00,404.00 C337.07,405.00 338.12,406.83 341.00,408.50 C343.88,410.17 349.13,412.33 352.30,414.00 C355.47,415.67 357.78,417.67 360.00,418.50 C362.22,419.33 363.37,418.55 365.60,419.00 C367.83,419.45 370.62,421.47 373.40,421.20 C376.18,420.93 379.53,418.22 382.30,417.40 C385.07,416.58 386.83,417.12 390.00,416.30 C393.17,415.48 398.30,412.68 401.30,412.50 C404.30,412.32 405.60,414.28 408.00,415.20 C410.40,416.12 413.12,417.53 415.70,418.00 C418.28,418.47 421.28,418.47 423.50,418.00 C425.72,417.53 427.13,416.78 429.00,415.20 C430.87,413.62 432.27,410.80 434.70,408.50 C437.13,406.20 441.00,402.15 443.60,401.40 C446.20,400.65 448.07,403.37 450.30,404.00 C452.53,404.63 454.78,405.57 457.00,405.20 C459.22,404.83 461.43,403.00 463.60,401.80 C465.77,400.60 467.63,399.67 470.00,398.00 C472.37,396.33 475.02,394.50 477.80,391.80 C480.58,389.10 484.10,384.22 486.70,381.80 C489.30,379.38 490.43,378.30 493.40,377.30 C496.37,376.30 501.15,376.72 504.50,375.80 C507.85,374.88 510.92,373.03 513.50,371.80 C516.08,370.57 517.78,369.70 520.00,368.40 C522.22,367.10 524.18,364.85 526.80,364.00 C529.42,363.15 533.50,363.90 535.70,363.30 C537.90,362.70 537.87,361.52 540.00,360.40 C542.13,359.28 545.22,357.47 548.50,356.60 C551.78,355.73 556.42,355.20 559.70,355.20 C562.98,355.20 565.62,355.97 568.20,356.60 C570.78,357.23 572.62,358.60 575.20,359.00 C577.78,359.40 581.35,359.47 583.70,359.00 C586.05,358.53 587.20,357.45 589.30,356.20 C591.40,354.95 594.07,352.52 596.30,351.50 C598.53,350.48 600.35,349.78 602.70,350.10 C605.05,350.42 608.18,352.75 610.40,353.40 C612.62,354.05 613.65,353.70 616.00,354.00 C618.35,354.30 623.08,355.00 624.50,355.20" fill="none" stroke="#111" stroke-width="1"/>
<g class="t">
<g shape-rendering="crispEdges"><rect x="166.5" y="-1.5" width="11" height="12.5" fill="#fbf7fb" stroke="#1c1c4c"/><rect x="166" y="10" width="12" height="2" fill="#1c1c4c"/></g>
<polyline points="167.5,8.5 170,3 173,7 176.8,3" fill="none" stroke="#3a2a6a" stroke-width="0.9"/>
<polyline points="167.5,10 170,5.5 173,9 176.8,5.5" fill="none" stroke="#c080b0" stroke-width="0.8"/>
<rect x="516.5" y="-1.5" width="74" height="14" fill="#fff" stroke="#6a6a6a" shape-rendering="crispEdges"/>
<polygon points="571.8,3.8 580.9,3.8 576.35,10.6" fill="#3f4550"/>
<g shape-rendering="crispEdges" fill="#f2f9fd" stroke="#3a7fa8"><rect x="594.5" y="-0.5" width="13" height="13"/><rect x="610.5" y="-0.5" width="13" height="13"/><rect x="626.5" y="-0.5" width="13" height="13"/><rect x="642.5" y="-0.5" width="13" height="13"/></g>
<g shape-rendering="crispEdges" fill="#2a6a92"><rect x="596" y="5" width="2" height="2"/><rect x="603" y="5" width="3" height="2"/><rect x="600" y="1" width="2" height="3"/><rect x="600" y="8" width="2" height="3"/><rect x="600" y="5" width="2" height="2"/><rect x="613" y="2" width="1" height="9"/><rect x="613" y="9" width="9" height="1"/><rect x="612" y="2" width="3" height="1"/><rect x="620" y="8" width="1" height="3"/><rect x="616" y="2" width="1" height="6"/><rect x="629" y="2" width="1" height="9"/><rect x="629" y="9" width="9" height="1"/><rect x="628" y="2" width="3" height="1"/><rect x="636" y="8" width="1" height="3"/><rect x="644" y="1" width="4" height="1"/><rect x="644" y="10" width="4" height="1"/><rect x="644" y="1" width="1" height="10"/><rect x="647" y="1" width="1" height="10"/><rect x="647" y="5" width="4" height="2"/></g>
<polygon points="620,2.5 617.2,5 620,7.5" fill="#2a6a92"/>
<polygon points="632,1.8 637,5 632,8.2" fill="#2a6a92"/>
<polygon points="650.5,2.8 654,6 650.5,9.2" fill="#2a6a92"/>
<text x="62.16" y="12.3" fill="#262626" font-weight="500" textLength="49.85" lengthAdjust="spacingAndGlyphs">欧元美元</text>
<text x="107.00" y="12.3" fill="#e4801e" font-weight="bold" textLength="14.42" lengthAdjust="spacingAndGlyphs">【</text>
<text x="120.84" y="12.3" fill="#dd9544" textLength="25.98" lengthAdjust="spacingAndGlyphs">日线</text>
<text x="148.33" y="12.3" fill="#e4801e" font-weight="bold" textLength="12.82" lengthAdjust="spacingAndGlyphs">】</text>
<text x="180.26" y="12" fill="#222" textLength="134.38" lengthAdjust="spacingAndGlyphs">MA(5,10,30,60,100,200)</text>
<text x="318.34" y="12" fill="#222" textLength="68.62" lengthAdjust="spacingAndGlyphs">MA5:1.0979</text>
<text x="395.46" y="12" fill="#2b2b86" textLength="67.60" lengthAdjust="spacingAndGlyphs">MA10:1.094</text>
<text x="522.40" y="11.6" fill="#44444f">全部主题</text>
<text x="62.68" y="325" fill="#222" textLength="85.21" lengthAdjust="spacingAndGlyphs">MACD(26,12,9)</text>
<text x="150.88" y="325" fill="#222" textLength="68.24" lengthAdjust="spacingAndGlyphs">DIFF:0.0064</text>
<text x="226.69" y="325" fill="#2b2b86">DEA:0.0063</text>
<text x="298.65" y="325" fill="#cc3ccc" textLength="79.04" lengthAdjust="spacingAndGlyphs">MACD:0.0002</text>
<text x="3.44" y="448.3" fill="#e07c1c" font-weight="900" textLength="25.98" lengthAdjust="spacingAndGlyphs">日线</text>
<text x="88.90" y="445.8" fill="#333" font-weight="bold">2023/01</text>
<text x="147.80" y="445.8" fill="#d0944a" font-weight="500" textLength="104.83" lengthAdjust="spacingAndGlyphs">2023/01/13 星期五</text>
<text x="256.20" y="445.8" fill="#333" font-weight="bold">23/02</text>
<text x="382.70" y="445.8" fill="#333" font-weight="bold">2023/03</text>
<text x="543.70" y="445.8" fill="#333" font-weight="bold">2023/04</text>
<g fill="#333" text-anchor="end">
<text x="57.3" y="23.2">1.1146</text>
<text x="57.3" y="81.2">1.0940</text>
<text x="57.3" y="139.4">1.0734</text>
<text x="57.3" y="197.8">1.0529</text>
<text x="57.3" y="255.8">1.0323</text>
<text x="57.3" y="336">0.0101</text>
<text x="57.3" y="361">0.0059</text>
<text x="57.3" y="386.2">0.0017</text>
<text x="57.3" y="411.5">-0.0024</text>
</g>
<g fill="#333">
<text x="660.8" y="23.2">1.1146</text>
<text x="660.8" y="139.2">1.0734</text>
<text x="660.8" y="255.6">1.0323</text>
<text x="660.8" y="336">0.0101</text>
<text x="660.8" y="361">0.0059</text>
<text x="660.8" y="386.2">0.0017</text>
<text x="659.8" y="411.5">-0.0024</text>
</g>
<rect x="657.5" y="69.5" width="60" height="17" fill="#fff" stroke="#cfa35c" shape-rendering="crispEdges"/>
<line x1="654" y1="69.5" x2="658" y2="69.5" stroke="#cfa35c" shape-rendering="crispEdges"/>
<text x="660.3" y="82.2" fill="#c98a4a">1.0972</text>
<text x="659.3" y="193.3" fill="#c98a3a">1.0577</text>
<circle cx="0.3" cy="317.6" r="3.2" fill="#9a2a3a" stroke="#222" stroke-width="1.3"/><line x1="4.3" y1="313.6" x2="5.8" y2="312.1" stroke="#222"/><line x1="5.3" y1="317.6" x2="7" y2="317.6" stroke="#222"/><line x1="4.3" y1="321.6" x2="5.8" y2="323.1" stroke="#222"/>
<line x1="60.5" y1="432" x2="60.5" y2="449" stroke="#c8c8c8" shape-rendering="crispEdges"/>
<polygon points="36,446.5 40,439.3 44,446.5" fill="#e07c1c"/>
</g>
</svg>
</body></html>
